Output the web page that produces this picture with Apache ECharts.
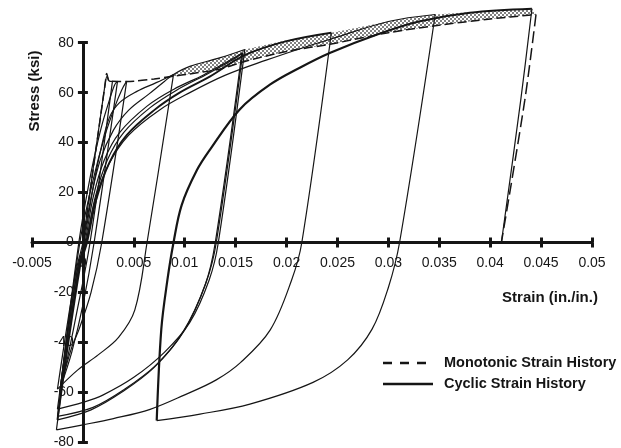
<!DOCTYPE html>
<html>
<head>
<meta charset="utf-8">
<script src="https://cdn.jsdelivr.net/npm/echarts@6/dist/echarts.min.js"></script>
<style>html,body{margin:0;padding:0;background:#fff}#c{width:621px;height:448px}</style>
</head>
<body>
<div id="c"></div>
<script>
// ---- tick labels ----
var xTicks = [-0.005, 0, 0.005, 0.01, 0.015, 0.02, 0.025, 0.03, 0.035, 0.04, 0.045, 0.05];
var yTicks = [-80, -60, -40, -20, 0, 20, 40, 60, 80];

// ---- monotonic strain history (strain, stress ksi) ----
var monoLoad = [[0,0],[0.0022,64],[0.00234,67.7],[0.0026,64.6],[0.0035,64.5],[0.0050,64.6],[0.0070,65.5],[0.0089,66.6],[0.0105,67.5],[0.0135,69.5],[0.0159,72.5],[0.0200,76.5],[0.0244,79.5],[0.0300,84],[0.0346,86.8],[0.0400,89.5],[0.0445,91.3]];
var monoUnload = [[0.0445,91.3],[0.0434,57],[0.0411,0]];

// ---- cyclic envelope (upper edge of shaded band) ----
var envelope = [[0.0089,67.3],[0.0105,70.5],[0.0135,74],[0.0159,77.3],[0.0200,81],[0.0244,84],[0.0300,88.5],[0.0346,91.3],[0.0400,92.8],[0.0441,93.6]];

// ---- cyclic strain history, one array per branch ----
var c1  = [[0,0],[0.0022,64],[0.00238,66.5],[0.0026,64.6],[0.0029,64.5]];
var c2  = [[0.0029,64.5],[0.0007,0],[-0.0007,-30],[-0.0015,-46],[-0.0022,-58]];
var c3  = [[-0.0022,-58],[-0.0004,0],[0.0008,28],[0.0018,46],[0.0026,57],[0.0031,63],[0.0034,64.6]];
var c4  = [[0.0034,64.6],[0.0011,0],[0.0000,-25],[-0.0011,-44],[-0.0022,-58]];
var c5  = [[-0.0022,-58],[-0.0003,0],[0.0010,25],[0.0021,42],[0.0031,54],[0.0038,61],[0.0043,64.6]];
var c6  = [[0.0043,64.6],[0.00185,0],[0.0008,-20],[-0.0004,-35],[-0.0011,-42],[-0.0022,-58]];
var c7  = [[-0.0022,-58],[-0.0006,-12],[0.0001,0],[0.0010,22],[0.0018,38],[0.0026,50],[0.0036,56],[0.0053,60.5],[0.0072,64],[0.0089,67.3]];
var c8  = [[0.0089,67.3],[0.0063,0],[0.0051,-27],[0.0035,-38],[0.0015,-45],[-0.0005,-51],[-0.0025,-58.7]];
var c9  = [[-0.0025,-58.7],[-0.0007,-12],[0.0000,0],[0.0008,18],[0.0017,33],[0.0030,45],[0.0045,53],[0.0065,59.5],[0.0080,64.5],[0.0089,67.3],[0.0105,70.5],[0.0135,74],[0.0159,77.3]];
var c10 = [[0.0159,77.3],[0.0133,0],[0.0124,-15],[0.0105,-32],[0.0080,-44],[0.0050,-54],[0.0020,-61],[0.0000,-64],[-0.0025,-66.7]];
var c11 = [[-0.0025,-66.7],[-0.0005,-10],[0.0002,0],[0.0010,18],[0.0021,33],[0.0036,44],[0.0063,54.6],[0.0089,61.3],[0.0118,67],[0.0140,72],[0.0157,76]];
var c12 = [[0.0157,76],[0.0131,0],[0.0121,-16],[0.0100,-35],[0.0072,-49],[0.0040,-59],[0.0010,-66],[-0.0025,-69.6]];
var c13 = [[-0.0025,-69.6],[-0.0004,-10],[0.0003,0],[0.0012,18],[0.0024,33],[0.0040,44],[0.0066,54],[0.0092,61],[0.0120,67],[0.0142,72],[0.0156,75.5]];
var c14 = [[0.0156,75.5],[0.0130,0],[0.0120,-17],[0.0098,-36],[0.0070,-50],[0.0038,-60],[0.0008,-67],[-0.0025,-71]];
var c15 = [[-0.0025,-71],[-0.0003,-10],[0.0004,0],[0.0013,17],[0.0026,32],[0.0043,43],[0.0070,53],[0.0095,60],[0.0125,66.5],[0.0159,75],[0.0200,80.6],[0.0244,84]];
var c16 = [[0.0244,84],[0.0215,0],[0.0205,-15],[0.0184,-35],[0.0155,-48],[0.0131,-55],[0.0100,-61],[0.0066,-66.8],[0.0030,-70.5],[0.0000,-73],[-0.0026,-75]];
var c17 = [[-0.0026,-75],[-0.0004,-10],[0.0003,0],[0.0012,17],[0.0025,31],[0.0045,43],[0.0075,53],[0.0105,60],[0.0140,67],[0.0180,73],[0.0220,78.5],[0.0244,81.5],[0.0300,88.5],[0.0346,91.3]];
var c18 = [[0.0346,91.3],[0.0311,0],[0.0300,-18],[0.0284,-34.7],[0.0260,-47],[0.0226,-56],[0.0164,-64.7],[0.0115,-68.7],[0.00725,-71.3]];
var c19 = [[0.00725,-71.3],[0.0077,-34.7],[0.0083,-15],[0.0089,0],[0.0097,15],[0.0112,29],[0.0125,37.3],[0.0154,53.3],[0.0184,63.3],[0.0213,70],[0.0243,76],[0.0289,83.3],[0.0330,88.5],[0.0380,92],[0.0441,93.6]];
var c20 = [[0.0441,93.6],[0.0430,57],[0.0411,0]];

var cyclic = [c1,c2,c3,c4,c5,c6,c7,c8,c9,c10,c11,c12,c13,c14,c15,c16,c17,c18,c19,c20];
var cyclicWidth = {14: 1.9, 18: 2.2};

var FONT = '"Liberation Sans", Arial, sans-serif';
var INK = '#151515';

// layout of the plotting box
var GRID = {left: 32, right: 29, top: 42.7, bottom: 5.7};
var W = 621, H = 448;
var xMin = xTicks[0], xMax = xTicks[xTicks.length - 1];
var yMin = yTicks[0], yMax = yTicks[yTicks.length - 1];
var gw = W - GRID.left - GRID.right, gh = H - GRID.top - GRID.bottom;
// offsets that move the axes onto the other axis' zero
var xOffBottom = -gh * (0 - yMin) / (yMax - yMin);
var xOffTop = -gh * (yMax - 0) / (yMax - yMin);
var yOffLeft = -gw * (0 - xMin) / (xMax - xMin);
var yOffRight = -gw * (xMax - 0) / (xMax - xMin);

// stipple pattern for the shaded band
var pc = document.createElement('canvas');
pc.width = 4; pc.height = 4;
var pctx = pc.getContext('2d');
pctx.fillStyle = '#fff'; pctx.fillRect(0,0,4,4);
pctx.fillStyle = '#808080';
pctx.fillRect(0,0,2,2); pctx.fillRect(2,2,2,2);
var stipple = {image: pc, repeat: 'repeat'};

var series = [];
series.push({
  type: 'custom', coordinateSystem: 'cartesian2d', xAxisIndex: 0, yAxisIndex: 0,
  silent: true, z: 1, data: [[0.02, 80]], clip: false,
  renderItem: function (params, api) {
    var lower = monoLoad.filter(function (p) { return p[0] >= envelope[0][0]; });
    var pts = envelope.map(function (p) { return api.coord(p); })
      .concat(lower.slice().reverse().map(function (p) { return api.coord(p); }));
    return {type: 'polygon', shape: {points: pts}, style: {fill: stipple, stroke: null}};
  }
});
series.push({name: 'Monotonic Strain History', type: 'line', data: monoLoad, symbol: 'none', smooth: 0.3, z: 3, clip: false,
  itemStyle: {color: INK}, lineStyle: {color: INK, width: 1.5, type: [9, 4]}});
series.push({name: 'Monotonic Strain History', type: 'line', data: monoUnload, symbol: 'none', smooth: 0.3, z: 3, clip: false,
  itemStyle: {color: INK}, lineStyle: {color: INK, width: 1.5, type: [12, 5]}});
cyclic.forEach(function (d, i) {
  series.push({name: 'Cyclic Strain History', type: 'line', data: d, symbol: 'none', smooth: 0.35, z: 2, clip: false,
    itemStyle: {color: INK}, lineStyle: {color: INK, width: cyclicWidth[i] || 1.2, type: 'solid'}});
});

var tickStyle = {color: INK, width: 3};
var chart = echarts.init(document.getElementById('c'), null, {renderer: 'canvas'});
chart.setOption({
  animation: false,
  backgroundColor: '#fff',
  grid: {left: GRID.left, right: GRID.right, top: GRID.top, bottom: GRID.bottom, containLabel: false, outerBoundsMode: 'none'},
  xAxis: [{
    type: 'value', min: xMin, max: xMax, interval: 0.005, position: 'bottom', offset: xOffBottom, z: 5,
    axisLine: {onZero: false, lineStyle: {color: INK, width: 3}},
    axisTick: {show: true, inside: false, length: 5, lineStyle: tickStyle},
    axisLabel: {show: true, margin: 14, color: INK, fontSize: 14, fontFamily: FONT, showMinLabel: true, showMaxLabel: true,
      formatter: function (v) { return String(+v.toFixed(3)); }},
    splitLine: {show: false}
  }, {
    type: 'value', min: xMin, max: xMax, interval: 0.005, position: 'top', offset: xOffTop,
    axisLine: {show: false, onZero: false},
    axisTick: {show: true, inside: false, length: 5, lineStyle: tickStyle},
    axisLabel: {show: false}, splitLine: {show: false}
  }],
  yAxis: [{
    type: 'value', min: yMin, max: yMax, interval: 20, position: 'left', offset: yOffLeft,
    axisLine: {onZero: false, lineStyle: {color: INK, width: 3}},
    axisTick: {show: true, inside: false, length: 5, lineStyle: tickStyle},
    axisLabel: {show: true, margin: 9, color: INK, fontSize: 14, fontFamily: FONT},
    splitLine: {show: false}
  }, {
    type: 'value', min: yMin, max: yMax, interval: 20, position: 'right', offset: yOffRight,
    axisLine: {show: false, onZero: false},
    axisTick: {show: true, inside: false, length: 5, lineStyle: tickStyle},
    axisLabel: {show: false}, splitLine: {show: false}
  }],
  graphic: [
    {type: 'text', x: 35, y: 91, rotation: Math.PI / 2, silent: true,
      style: {text: 'Stress (ksi)', font: 'bold 15px ' + FONT, fill: INK, align: 'center', verticalAlign: 'middle'}},
    {type: 'text', x: 550, y: 298, silent: true,
      style: {text: 'Strain (in./in.)', font: 'bold 15px ' + FONT, fill: INK, align: 'center', verticalAlign: 'middle'}},
    {type: 'line', silent: true, shape: {x1: 383, y1: 363, x2: 433, y2: 363},
      style: {stroke: INK, lineWidth: 2.5, lineDash: [9, 8]}},
    {type: 'text', x: 444, y: 363, silent: true,
      style: {text: 'Monotonic Strain History', font: 'bold 14.5px ' + FONT, fill: INK, align: 'left', verticalAlign: 'middle'}},
    {type: 'line', silent: true, shape: {x1: 383, y1: 384, x2: 433, y2: 384},
      style: {stroke: INK, lineWidth: 2.5}},
    {type: 'text', x: 444, y: 384, silent: true,
      style: {text: 'Cyclic Strain History', font: 'bold 14.5px ' + FONT, fill: INK, align: 'left', verticalAlign: 'middle'}}
  ],
  series: series
});
</script>
</body>
</html>
